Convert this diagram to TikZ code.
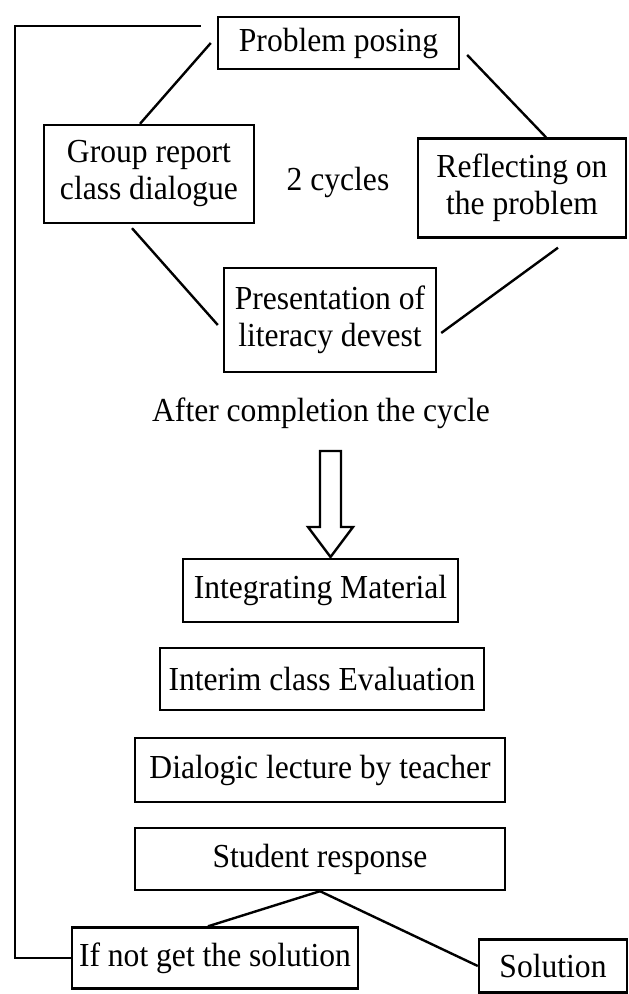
\documentclass[tikz,border=0pt]{standalone}
\usepackage{fontspec}
\setmainfont[FakeStretch=0.94]{Liberation Serif}
\usetikzlibrary{calc}
\tikzset{
  every node/.style={font=\fontsize{16.8pt}{18.5pt}\selectfont},
  box/.style={draw, line width=1.2pt, inner sep=0pt, align=center},
  conn/.style={line width=1.2pt},
  label/.style={inner sep=0pt}
}
\begin{document}
\begin{tikzpicture}[x=0.5pt,y=-0.5pt]
\useasboundingbox (0,0) rectangle (628,994);
% cycle boxes
\node[box, minimum width=120.5pt, minimum height=26pt] (pp) at (338.5,43) {Problem posing};
\node[box, minimum width=105pt, minimum height=49pt] (grp) at (149,174) {Group report\\class dialogue};
\node[box, minimum width=104pt, minimum height=49.5pt] (refl) at (522,188) {Reflecting on\\the problem};
\node[box, minimum width=106pt, minimum height=52pt] (pres) at (330,320) {Presentation of\\literacy devest};
\node[label] (cyc) at (338,182) {2 cycles};
\node[label] (after) at (321,413) {After completion the cycle};
% lower boxes
\node[box, minimum width=137.5pt, minimum height=31.5pt] (integ) at (320.5,590.5) {Integrating Material};
\node[box, minimum width=162pt, minimum height=31pt] (interim) at (322,679) {Interim class Evaluation};
\node[box, minimum width=185pt, minimum height=32pt] (dial) at (320,770) {Dialogic lecture by teacher};
\node[box, minimum width=185pt, minimum height=31pt] (stud) at (320,859) {Student response};
\node[box, minimum width=143pt, minimum height=30.5pt] (ifnot) at (215,958) {If not get the solution};
\node[box, minimum width=74pt, minimum height=26.5pt] (sol) at (553,966) {Solution};
% cycle connectors
\draw[conn] ($(pp.west)+(-6,0)$) -- ($(grp.north)+(-9,0)$);
\draw[conn] ($(pp.east)+(7,12)$) -- ($(refl.north)+(24,0)$);
\draw[conn] ($(grp.south)+(-17,4)$) -- ($(pres.west)+(-5,5)$);
\draw[conn] ($(refl.south)+(36,9)$) -- ($(pres.east)+(4,13)$);
% block arrow
\draw[line width=1.2pt, line join=miter]
  (320,451) -- (341,451) -- (341,527) -- (353,527) -- (330.5,557) -- (308,527) -- (320,527) -- cycle;
% student response branches
\draw[conn] (stud.south) -- ($(ifnot.north)+(-7,0)$);
\draw[conn] (stud.south) -- (sol.west);
% feedback loop
\coordinate (loopx) at (15,0);
\draw[conn] ($(pp.west)+(-16,-17)$) -| (loopx |- ifnot.west) -- (ifnot.west);
\end{tikzpicture}
\end{document}
